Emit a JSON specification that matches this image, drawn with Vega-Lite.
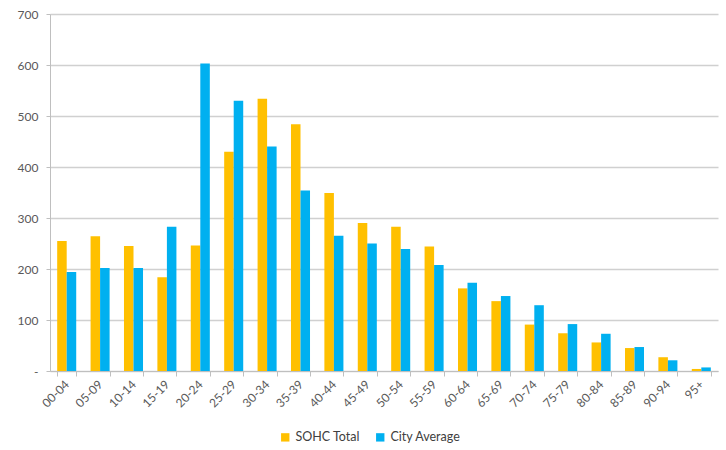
{
  "$schema": "https://vega.github.io/schema/vega-lite/v6.json",
  "autosize": {"type": "none"},
  "width": 668,
  "height": 357,
  "padding": {"left": 50, "top": 14, "right": 8, "bottom": 79},
  "background": "white",
  "config": {
    "font": "Lato",
    "view": {"stroke": null},
    "axis": {"labelFont": "Lato", "labelColor": "#595959", "labelFontSize": 12, "domainColor": "#bfbfbf", "tickColor": "#bfbfbf", "gridColor": "#d0d0d0", "gridWidth": 1.3}
  },
  "data": {
    "values": [
      {"age": "00-04", "series": "SOHC Total", "value": 255},
      {"age": "00-04", "series": "City Average", "value": 194},
      {"age": "05-09", "series": "SOHC Total", "value": 264},
      {"age": "05-09", "series": "City Average", "value": 202},
      {"age": "10-14", "series": "SOHC Total", "value": 245},
      {"age": "10-14", "series": "City Average", "value": 202},
      {"age": "15-19", "series": "SOHC Total", "value": 184},
      {"age": "15-19", "series": "City Average", "value": 283},
      {"age": "20-24", "series": "SOHC Total", "value": 246},
      {"age": "20-24", "series": "City Average", "value": 603},
      {"age": "25-29", "series": "SOHC Total", "value": 430},
      {"age": "25-29", "series": "City Average", "value": 530},
      {"age": "30-34", "series": "SOHC Total", "value": 534},
      {"age": "30-34", "series": "City Average", "value": 440},
      {"age": "35-39", "series": "SOHC Total", "value": 484},
      {"age": "35-39", "series": "City Average", "value": 354},
      {"age": "40-44", "series": "SOHC Total", "value": 349},
      {"age": "40-44", "series": "City Average", "value": 265},
      {"age": "45-49", "series": "SOHC Total", "value": 290},
      {"age": "45-49", "series": "City Average", "value": 250},
      {"age": "50-54", "series": "SOHC Total", "value": 283},
      {"age": "50-54", "series": "City Average", "value": 239},
      {"age": "55-59", "series": "SOHC Total", "value": 244},
      {"age": "55-59", "series": "City Average", "value": 208},
      {"age": "60-64", "series": "SOHC Total", "value": 162},
      {"age": "60-64", "series": "City Average", "value": 173},
      {"age": "65-69", "series": "SOHC Total", "value": 137},
      {"age": "65-69", "series": "City Average", "value": 147},
      {"age": "70-74", "series": "SOHC Total", "value": 91},
      {"age": "70-74", "series": "City Average", "value": 129},
      {"age": "75-79", "series": "SOHC Total", "value": 74},
      {"age": "75-79", "series": "City Average", "value": 92},
      {"age": "80-84", "series": "SOHC Total", "value": 56},
      {"age": "80-84", "series": "City Average", "value": 73},
      {"age": "85-89", "series": "SOHC Total", "value": 45},
      {"age": "85-89", "series": "City Average", "value": 47},
      {"age": "90-94", "series": "SOHC Total", "value": 27},
      {"age": "90-94", "series": "City Average", "value": 21},
      {"age": "95+", "series": "SOHC Total", "value": 4},
      {"age": "95+", "series": "City Average", "value": 7}
    ]
  },
  "mark": {"type": "bar"},
  "encoding": {
    "x": {
      "field": "age", "type": "nominal", "sort": null, "title": null,
      "scale": {"paddingInner": 0.43, "paddingOuter": 0.215},
      "axis": {"labelAngle": -45, "labelAlign": "right", "labelBaseline": "middle", "labelPadding": 6, "tickBand": "extent", "tickSize": 5, "grid": false}
    },
    "y": {
      "field": "value", "type": "quantitative", "title": null,
      "scale": {"domain": [0, 700], "nice": false},
      "axis": {"values": [0, 100, 200, 300, 400, 500, 600, 700], "labelExpr": "datum.value == 0 ? '-' : datum.label", "tickSize": 4, "labelPadding": 8}
    },
    "xOffset": {"field": "series", "type": "nominal", "sort": ["SOHC Total", "City Average"]},
    "color": {
      "field": "series", "type": "nominal",
      "scale": {"domain": ["SOHC Total", "City Average"], "range": ["#FFC000", "#00B0F0"]},
      "legend": {"title": null, "orient": "none", "direction": "horizontal", "legendX": 229, "legendY": 417, "symbolType": "square", "symbolSize": 70, "symbolStrokeWidth": 0, "labelFontSize": 12.5, "labelColor": "#404040", "columnPadding": 14, "labelOffset": 4}
    }
  }
}
